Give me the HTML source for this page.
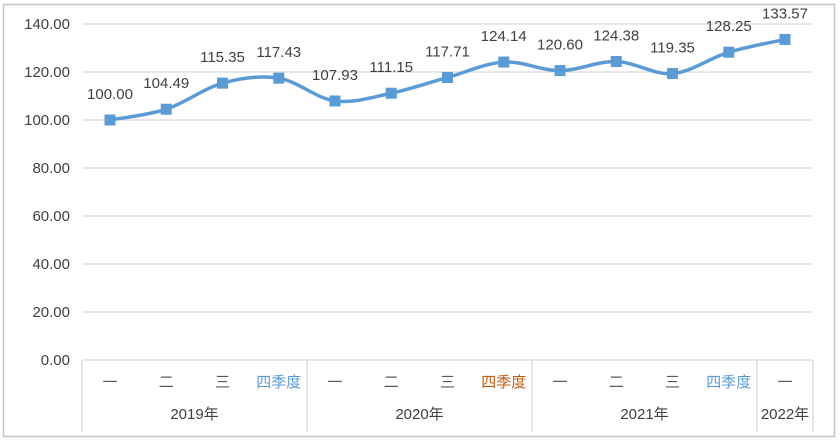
<!DOCTYPE html>
<html><head><meta charset="utf-8"><style>
body{margin:0;background:#fff;width:840px;height:444px;overflow:hidden}
svg{display:block;font-family:"Liberation Sans","Noto Sans CJK SC",sans-serif}
</style></head><body>
<svg id="s" width="840" height="444" viewBox="0 0 840 444">
<rect x="3.5" y="4.5" width="831" height="432" fill="#fff" stroke="#c4c4c4" stroke-width="1.5"/>
<g id="g"></g>
</svg>
<script>
const NS="http://www.w3.org/2000/svg",g=document.getElementById('g');
function el(t,a,txt){const e=document.createElementNS(NS,t);for(const k in a)e.setAttribute(k,a[k]);if(txt!==undefined)e.textContent=txt;g.appendChild(e);return e;}
const L=82,R=813,y0=360;
for(let v=0;v<=140;v+=20){const y=y0-v*2.4;
 if(v>0)el('line',{x1:L,x2:R,y1:y,y2:y,stroke:'#d9d9d9','stroke-width':1.3});
 el('text',{x:70,y:y+5,'text-anchor':'end','font-size':15,fill:'#404040'},v.toFixed(2));}
el('line',{x1:L,x2:R,y1:y0,y2:y0,stroke:'#d9d9d9','stroke-width':1.3});
[82,307,532,757,813].forEach(x=>el('line',{x1:x,x2:x,y1:y0,y2:432,stroke:'#d9d9d9','stroke-width':1.3}));
const vals=[100,104.49,115.35,117.43,107.93,111.15,117.71,124.14,120.60,124.38,119.35,128.25,133.57];
const cats=['一','二','三','四季度','一','二','三','四季度','一','二','三','四季度','一'];
const cc=['#595959','#595959','#595959','#5b9bd5','#595959','#595959','#595959','#c55a11','#595959','#595959','#595959','#5b9bd5','#595959'];
const P=vals.map((v,i)=>[110+i*56.25,y0-v*2.4]);
let d='M'+P[0][0]+','+P[0][1];
for(let i=0;i<P.length-1;i++){const p0=P[Math.max(i-1,0)],p1=P[i],p2=P[i+1],p3=P[Math.min(i+2,P.length-1)];
 const t=1/6;d+=` C${p1[0]+(p2[0]-p0[0])*t},${p1[1]+(p2[1]-p0[1])*t} ${p2[0]-(p3[0]-p1[0])*t},${p2[1]-(p3[1]-p1[1])*t} ${p2[0]},${p2[1]}`;}
el('path',{d:d,fill:'none',stroke:'#5b9bd5','stroke-width':3.5,'stroke-linejoin':'round'});
P.forEach((p,i)=>{el('rect',{x:p[0]-5.5,y:p[1]-5.5,width:11,height:11,fill:'#5b9bd5'});
 el('text',{x:p[0],y:p[1]-21,'text-anchor':'middle','font-size':15,fill:'#404040'},vals[i].toFixed(2));
 el('text',{x:p[0],y:387,'text-anchor':'middle','font-size':15,fill:cc[i]},cats[i]);});
[['2019年',194.5],['2020年',419.5],['2021年',644.5],['2022年',785]].forEach(a=>el('text',{x:a[1],y:419,'text-anchor':'middle','font-size':15,fill:'#404040'},a[0]));
</script>
</body></html>
